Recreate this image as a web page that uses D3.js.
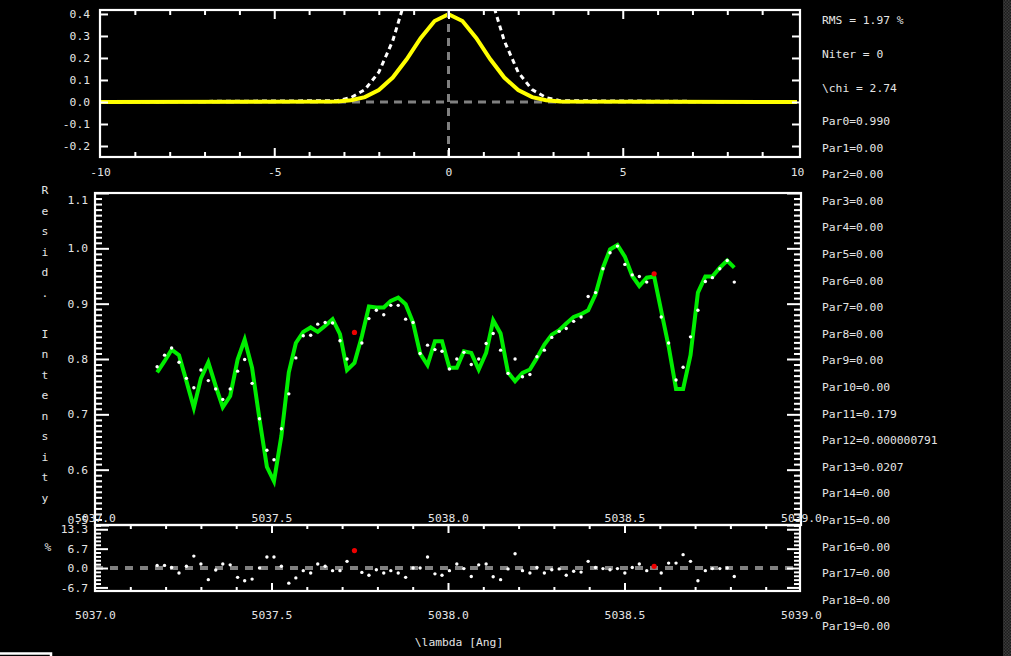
<!DOCTYPE html>
<html><head><meta charset="utf-8">
<script src="https://cdn.jsdelivr.net/npm/d3@7"></script>
<style>
html,body{margin:0;padding:0;background:#000;}
svg{display:block;}
text{font-family:"DejaVu Sans Mono",monospace;font-size:11.3px;fill:#e4e4e4;}
</style></head>
<body>
<svg id="c" width="1011" height="656"></svg>
<script>
// ---------- DATA ----------
const wavelength = [5037.176,5037.197,5037.217,5037.238,5037.259,5037.280,5037.300,5037.321,5037.342,5037.362,
5037.383,5037.404,5037.424,5037.445,5037.466,5037.487,5037.507,5037.528,5037.549,5037.569,
5037.590,5037.611,5037.631,5037.652,5037.673,5037.694,5037.714,5037.735,5037.756,5037.776,
5037.797,5037.818,5037.838,5037.859,5037.880,5037.901,5037.921,5037.942,5037.963,5037.983,
5038.004,5038.025,5038.045,5038.066,5038.087,5038.108,5038.128,5038.149,5038.170,5038.190,
5038.211,5038.232,5038.252,5038.273,5038.294,5038.315,5038.335,5038.356,5038.377,5038.397,
5038.418,5038.439,5038.459,5038.480,5038.501,5038.522,5038.542,5038.563,5038.584,5038.604,
5038.625,5038.646,5038.666,5038.687,5038.708,5038.729,5038.749,5038.770,5038.791,5038.811];
const observed = [0.786,0.807,0.820,0.794,0.765,0.748,0.780,0.761,0.746,0.727,
0.746,0.778,0.799,0.756,0.692,0.635,0.618,0.674,0.737,0.802,
0.842,0.843,0.863,0.866,0.865,0.833,0.800,0.848,0.829,0.873,
0.888,0.880,0.897,0.897,0.872,0.866,0.810,0.825,0.817,0.814,
0.782,0.800,0.812,0.790,0.800,0.828,0.846,0.816,0.774,0.800,
0.768,0.772,0.804,0.816,0.839,0.850,0.855,0.868,0.876,0.913,
0.920,0.963,0.992,1.004,0.971,0.952,0.949,0.939,0.954,0.876,
0.829,0.762,0.785,0.840,0.888,0.940,0.947,0.963,0.978,0.939];
const model = [0.776,0.796,0.817,0.807,0.760,0.712,0.765,0.794,0.751,0.713,
0.733,0.799,0.835,0.784,0.691,0.605,0.579,0.661,0.776,0.829,
0.849,0.857,0.849,0.860,0.872,0.845,0.780,0.793,0.841,0.895,
0.893,0.893,0.905,0.911,0.899,0.866,0.810,0.789,0.832,0.832,
0.784,0.784,0.814,0.811,0.781,0.811,0.870,0.846,0.776,0.760,
0.775,0.781,0.802,0.826,0.844,0.852,0.864,0.876,0.881,0.888,
0.917,0.965,0.998,1.006,0.985,0.950,0.932,0.947,0.949,0.887,
0.823,0.746,0.746,0.807,0.920,0.949,0.949,0.965,0.978,0.965];
const residualPct = [0.9,0.9,0.2,-1.7,0.6,4.1,1.4,-4.0,-0.7,1.4,
1.1,-3.2,-4.4,-3.8,0.0,3.8,3.8,0.6,-5.2,-3.4,
-0.9,-1.7,1.4,0.6,-0.9,-0.9,2.3,6.0,-1.5,-2.5,
-0.6,-1.7,-0.9,-1.7,-3.2,0.0,0.0,3.8,-2.0,-2.5,
-0.9,1.4,-0.2,-2.9,1.1,1.4,-3.0,-4.0,-0.3,4.9,
-0.9,-1.7,0.2,-1.7,-0.6,-0.3,-2.5,-1.1,-1.4,2.3,
0.2,-0.2,-0.6,-0.2,-1.7,0.2,1.4,-0.9,0.6,-1.7,
1.7,1.7,4.6,2.3,-4.4,-0.9,-0.2,-0.2,0.0,-2.9];
const maskedIdx = [27, 68];

const kernelX    = [-10,-3.2,-2.8,-2.4,-2.0,-1.6,-1.2,-0.8,-0.4,0,0.4,0.8,1.2,1.6,2.0,2.4,2.8,3.2,10];
const kernelFit  = [0,0.002,0.008,0.022,0.054,0.111,0.194,0.290,0.368,0.399,0.368,0.290,0.194,0.111,0.054,0.022,0.008,0.002,0];
const kernelInit = [0,0.006,0.020,0.056,0.135,0.278,0.487,0.726,0.923,1.0,0.923,0.726,0.487,0.278,0.135,0.056,0.020,0.006,0];

const kTicksY = [-0.2,-0.1,0.0,0.1,0.2,0.3,0.4];
const kTicksX = [-10,-5,0,5,10];
const mainTicksY = [0.5,0.6,0.7,0.8,0.9,1.0,1.1];
const lamTicks = [5037.0,5037.5,5038.0,5038.5,5039.0];
const resTicks = [-20/3,0,20/3,40/3];

const infoLines = ["RMS = 1.97 %","Niter = 0","\\chi = 2.74"];
const parLabels = ["Par0=0.990","Par1=0.00","Par2=0.00","Par3=0.00","Par4=0.00","Par5=0.00","Par6=0.00",
"Par7=0.00","Par8=0.00","Par9=0.00","Par10=0.00","Par11=0.179","Par12=0.000000791","Par13=0.0207",
"Par14=0.00","Par15=0.00","Par16=0.00","Par17=0.00","Par18=0.00","Par19=0.00"];
const yLabel = "Resid. Intensity";
const xLabel = "\\lambda [Ang]";

// ---------- DRAW ----------
const svg = d3.select("#c");
svg.append("rect").attr("width",1011).attr("height",656).attr("fill","#000");
const defs = svg.append("defs");
const pat = defs.append("pattern").attr("id","dith").attr("width",3).attr("height",3).attr("patternUnits","userSpaceOnUse");
pat.append("rect").attr("width",3).attr("height",3).attr("fill","#1c1c1c");
pat.append("rect").attr("width",1.5).attr("height",1.5).attr("fill","#3c3c3c");
pat.append("rect").attr("x",1.5).attr("y",1.5).attr("width",1.5).attr("height",1.5).attr("fill","#3c3c3c");
svg.append("rect").attr("x",1003).attr("y",0).attr("width",8).attr("height",656).attr("fill","url(#dith)");

const fmt = d => d3.format(".1f")(d).replace("\u2212","-");
const fmtInt = d => String(d);

function clip(id,x0,y0,x1,y1){
  defs.append("clipPath").attr("id",id).append("rect").attr("x",x0).attr("y",y0).attr("width",x1-x0).attr("height",y1-y0);
}
function styleAxis(g){
  g.select(".domain").remove();
  g.selectAll(".tick line").attr("stroke","#fff").attr("stroke-width",2);
  g.selectAll(".tick text").attr("fill","#e4e4e4").style("font-family","DejaVu Sans Mono").style("font-size","11.3px");
}
function frame(x0,y0,x1,y1){
  svg.append("rect").attr("x",x0).attr("y",y0).attr("width",x1-x0).attr("height",y1-y0)
    .attr("fill","none").attr("stroke","#fff").attr("stroke-width",2.2);
}

// ===== Top panel (kernel) =====
const kx = d3.scaleLinear().domain([-10,10]).range([100,797]);
const ky = d3.scaleLinear().domain([-0.25,0.418]).range([157,10]);
const KL=100,KR=800,KT=10,KB=157;
clip("clipK",KL,KT,KR+2,KB);
// gray dashed zero line
svg.append("line").attr("x1",KL).attr("x2",KR).attr("y1",ky(0)).attr("y2",ky(0))
  .attr("stroke","#808080").attr("stroke-width",3).attr("stroke-dasharray","8,6");
const kline = d3.line().x((d,i)=>kx(kernelX[i])).y(d=>ky(d));
svg.append("path").datum(kernelInit).attr("d",kline).attr("clip-path","url(#clipK)")
  .attr("fill","none").attr("stroke","#fff").attr("stroke-width",3).attr("stroke-dasharray","5,4");
svg.append("path").datum(kernelFit).attr("d",kline)
  .attr("fill","none").attr("stroke","#ffff00").attr("stroke-width",4);
svg.append("line").attr("x1",kx(0)).attr("x2",kx(0)).attr("y1",KT).attr("y2",KB)
  .attr("stroke","#808080").attr("stroke-width",3).attr("stroke-dasharray","8,6");
frame(KL,KT,KR,KB);
// ticks
svg.append("g").attr("transform",`translate(${KL},0)`)
  .call(d3.axisLeft(ky).tickValues(kTicksY).tickSize(-8).tickPadding(10).tickFormat(fmt)).call(styleAxis);
svg.append("g").attr("transform",`translate(${KR},0)`)
  .call(d3.axisRight(ky).tickValues(kTicksY).tickSize(-8).tickFormat("")).call(styleAxis);
const kMinor = d3.range(-9,10).filter(v=>v%5!==0);
[["top",KT,1],["bottom",KB,-1]].forEach(([n,y,s])=>{
  const ax = s>0 ? d3.axisBottom(kx) : d3.axisTop(kx);
  svg.append("g").attr("transform",`translate(0,${y})`).call(ax.tickValues(kMinor).tickSize(5).tickFormat("")).call(styleAxis);
  svg.append("g").attr("transform",`translate(0,${y})`).call((s>0?d3.axisBottom(kx):d3.axisTop(kx)).tickValues([-5,0,5]).tickSize(9).tickFormat("")).call(styleAxis);
});
svg.append("g").attr("transform",`translate(0,${KB})`)
  .call(d3.axisBottom(kx).tickValues(kTicksX).tickSize(0).tickPadding(11).tickFormat(fmtInt)).call(styleAxis);

// ===== Main panel =====
const x = d3.scaleLinear().domain([5037,5039]).range([95,801]);
const y = d3.scaleLinear().domain([0.5,1.1]).range([525,193]);
const ML=95,MR=801,MT=193,MB=525;
frame(ML,MT,MR,MB);
const yMinor = d3.range(50,111).map(v=>v/100).filter(v=>Math.round(v*100)%10!==0);
svg.append("g").attr("transform",`translate(${ML},0)`).call(d3.axisLeft(y).tickValues(yMinor).tickSize(-7).tickFormat("")).call(styleAxis);
svg.append("g").attr("transform",`translate(${MR},0)`).call(d3.axisRight(y).tickValues(yMinor).tickSize(-7).tickFormat("")).call(styleAxis);
const yl = svg.append("g").attr("transform",`translate(${ML},0)`)
  .call(d3.axisLeft(y).tickValues(mainTicksY).tickSize(-14).tickPadding(7).tickFormat(fmt)).call(styleAxis);
yl.selectAll(".tick").filter(d=>d>1.05).select("text").attr("dy","0.95em");
yl.selectAll(".tick").filter(d=>d<0.55).select("text").attr("dy","-0.1em");
svg.append("g").attr("transform",`translate(${MR},0)`).call(d3.axisRight(y).tickValues(mainTicksY).tickSize(-14).tickFormat("")).call(styleAxis);
svg.append("g").attr("transform",`translate(0,${MB})`)
  .call(d3.axisTop(x).tickValues(lamTicks).tickSize(0).tickPadding(3).tickFormat(fmt)).call(styleAxis);

const line = d3.line().x((d,i)=>x(wavelength[i])).y(d=>y(d));
svg.append("path").datum(model).attr("d",line).attr("fill","none")
  .attr("stroke","#00ee00").attr("stroke-width",4).attr("stroke-linejoin","miter");
svg.append("g").selectAll("circle").data(observed).join("circle")
  .filter((d,i)=>!maskedIdx.includes(i))
  .attr("cx",(d,i,n)=>0).remove();
const obsPts = observed.map((v,i)=>({x:wavelength[i],v,i,m:maskedIdx.includes(i)}));
svg.append("g").selectAll("circle").data(obsPts.filter(d=>!d.m)).join("circle")
  .attr("cx",d=>x(d.x)).attr("cy",d=>y(d.v)).attr("r",1.7).attr("fill","#fff");
svg.append("g").selectAll("circle").data(obsPts.filter(d=>d.m)).join("circle")
  .attr("cx",d=>x(d.x)).attr("cy",d=>y(d.v)).attr("r",2.6).attr("fill","#ee0000");

// ===== Residual panel =====
const ry = d3.scaleLinear().domain([-7.9,14.8]).range([591,525]);
const RL=95,RR=800,RT=525,RB=591;
svg.append("line").attr("x1",RL).attr("x2",RR).attr("y1",ry(0)).attr("y2",ry(0))
  .attr("stroke","#808080").attr("stroke-width",4).attr("stroke-dasharray","8,7");
frame(RL,RT,RR,RB);
const rMinor = d3.range(-5,12).filter(k=>k%5!==0).map(k=>k*4/3);
svg.append("g").attr("transform",`translate(${RL},0)`).call(d3.axisLeft(ry).tickValues(rMinor).tickSize(-6).tickFormat("")).call(styleAxis);
svg.append("g").attr("transform",`translate(${RR},0)`).call(d3.axisRight(ry).tickValues(rMinor).tickSize(-6).tickFormat("")).call(styleAxis);
const rl = svg.append("g").attr("transform",`translate(${RL},0)`)
  .call(d3.axisLeft(ry).tickValues(resTicks).tickSize(-13).tickPadding(7).tickFormat(fmt)).call(styleAxis);
svg.append("g").attr("transform",`translate(${RR},0)`).call(d3.axisRight(ry).tickValues(resTicks).tickSize(-13).tickFormat("")).call(styleAxis);
const xMinor = d3.range(5037.1,5039.0,0.1).map(v=>+v.toFixed(1)).filter(v=>Math.abs(v*2-Math.round(v*2))>0.01);
svg.append("g").attr("transform",`translate(0,${RT})`).call(d3.axisBottom(x).tickValues(xMinor).tickSize(4).tickFormat("")).call(styleAxis);
svg.append("g").attr("transform",`translate(0,${RT})`).call(d3.axisBottom(x).tickValues(lamTicks.slice(1,4)).tickSize(8).tickFormat("")).call(styleAxis);
svg.append("g").attr("transform",`translate(0,${RB})`).call(d3.axisTop(x).tickValues(xMinor).tickSize(4).tickFormat("")).call(styleAxis);
svg.append("g").attr("transform",`translate(0,${RB})`).call(d3.axisTop(x).tickValues(lamTicks.slice(1,4)).tickSize(8).tickFormat("")).call(styleAxis);
svg.append("g").attr("transform",`translate(0,${RB})`)
  .call(d3.axisBottom(x).tickValues(lamTicks).tickSize(0).tickPadding(20).tickFormat(fmt)).call(styleAxis);
const resPts = residualPct.map((v,i)=>({x:wavelength[i],v,m:maskedIdx.includes(i)}));
svg.append("g").selectAll("circle").data(resPts.filter(d=>!d.m)).join("circle")
  .attr("cx",d=>x(d.x)).attr("cy",d=>ry(d.v)).attr("r",1.7).attr("fill","#fff");
svg.append("g").selectAll("circle").data(resPts.filter(d=>d.m)).join("circle")
  .attr("cx",d=>x(d.x)).attr("cy",d=>ry(d.v)).attr("r",2.6).attr("fill","#ee0000");

// ===== Labels =====
svg.append("text").attr("x",48).attr("y",551).attr("text-anchor","middle").text("%");
svg.append("g").selectAll("text").data(yLabel.split("")).join("text")
  .attr("x",45).attr("y",(d,i)=>194+i*20.5).attr("text-anchor","middle").text(d=>d);
svg.append("text").attr("x",459).attr("y",646).attr("text-anchor","middle").text(xLabel);

const infoY = [20,54,88];
svg.append("g").selectAll("text").data(infoLines).join("text")
  .attr("x",822).attr("y",(d,i)=>infoY[i]+4).text(d=>d);
svg.append("g").selectAll("text").data(parLabels).join("text")
  .attr("x",822).attr("y",(d,i)=>121+i*26.6+4).text(d=>d);

// window decoration bottom-left
svg.append("path").attr("d","M0,653.5 H51 V656").attr("fill","none").attr("stroke","#fff").attr("stroke-width",2.5);
</script>
</body></html>
